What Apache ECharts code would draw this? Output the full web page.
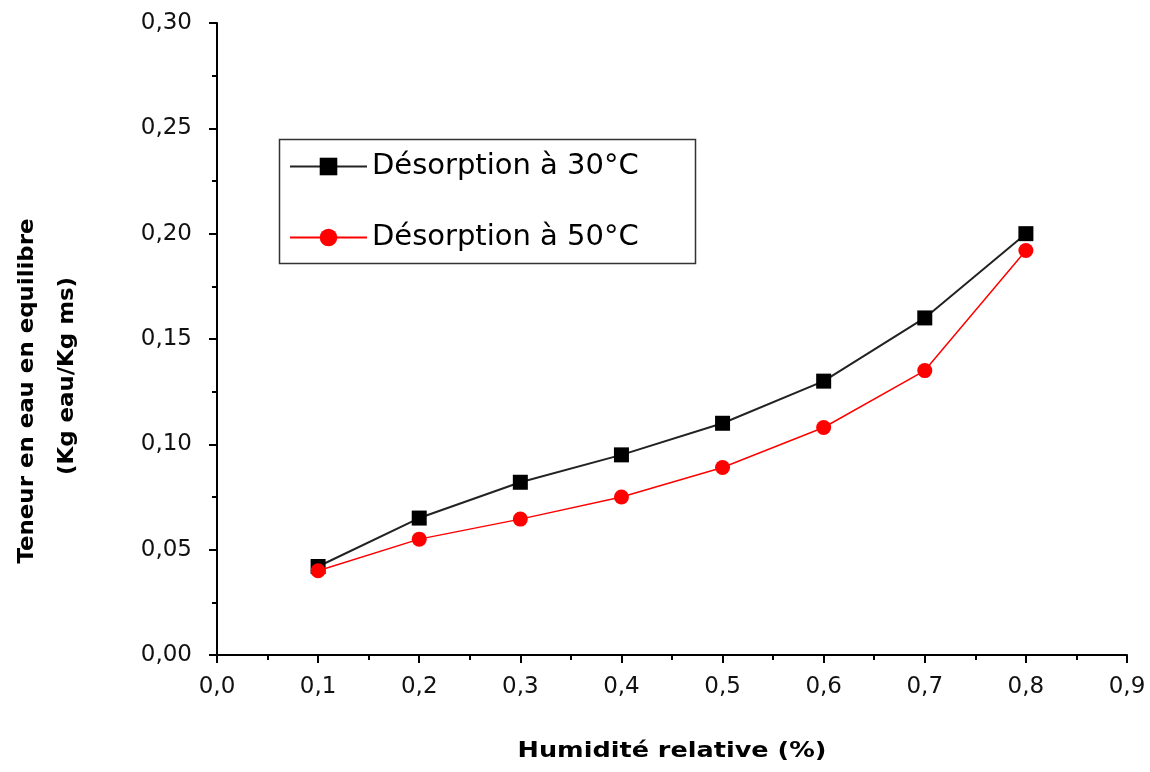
<!DOCTYPE html>
<html><head><meta charset="utf-8">
<script src="https://cdn.jsdelivr.net/npm/echarts@6/dist/echarts.min.js"></script>
<style>html,body{margin:0;padding:0;background:#fff}#c{width:1150px;height:772px}</style>
</head><body><div id="c"></div>
<script>
const humidity = [0.1, 0.2, 0.3, 0.4, 0.5, 0.6, 0.7, 0.8];
const desorption30 = [0.042, 0.065, 0.082, 0.095, 0.110, 0.130, 0.160, 0.200];
const desorption50 = [0.040, 0.055, 0.0645, 0.075, 0.089, 0.108, 0.135, 0.192];
const seriesNames = ['Désorption à 30°C', 'Désorption à 50°C'];
const xTitle = 'Humidité relative (%)';
const yTitle = ['Teneur en eau en equilibre', '(Kg eau/Kg ms)'];

const chart = echarts.init(document.getElementById('c'));
const font = '"DejaVu Sans", sans-serif';
const pair = (xs, ys) => xs.map((x, i) => [x, ys[i]]);
const fmt = (d) => v => v.toFixed(d).replace('.', ',');

chart.setOption({
  animation: false,
  grid: { left: 217, right: 23, top: 23, bottom: 117, containLabel: false },
  xAxis: {
    type: 'value', min: 0, max: 0.9, interval: 0.1,
    axisLine: { lineStyle: { color: '#000', width: 2 } },
    axisTick: { inside: false, length: 8, lineStyle: { color: '#000', width: 2 } },
    minorTick: { show: true, splitNumber: 2, length: 5, lineStyle: { color: '#000', width: 2 } },
    splitLine: { show: false },
    axisLabel: { formatter: fmt(1), color: '#111', fontSize: 23, fontFamily: font, margin: 21 }
  },
  yAxis: {
    type: 'value', min: 0, max: 0.3, interval: 0.05,
    axisLine: { lineStyle: { color: '#000', width: 2 } },
    axisTick: { inside: false, length: 8, lineStyle: { color: '#000', width: 2 } },
    minorTick: { show: true, splitNumber: 2, length: 5, lineStyle: { color: '#000', width: 2 } },
    splitLine: { show: false },
    axisLabel: { formatter: fmt(2), color: '#111', fontSize: 23, fontFamily: font, margin: 25 }
  },
  legend: {
    orient: 'vertical', left: 284, top: 147,
    itemWidth: 77, itemHeight: 22, itemGap: 42,
    textStyle: { fontSize: 29, fontFamily: font, color: '#000', padding: [0, 0, 0, 0] },
    data: seriesNames
  },
  graphic: [
    { type: 'rect', left: 277, top: 137, shape: { width: 416, height: 124 },
      style: { fill: 'none', stroke: '#333', lineWidth: 1.5 }, z: 0 },
    { type: 'text', x: 672, y: 751, scaleX: 1.16,
      style: { text: xTitle, font: 'bold 22px ' + font, fill: '#000', align: 'center', verticalAlign: 'middle' } },
    { type: 'text', x: 27, y: 391, rotation: Math.PI / 2, scaleX: 1.04,
      style: { text: yTitle[0], font: 'bold 22px ' + font, fill: '#000', align: 'center', verticalAlign: 'middle' } },
    { type: 'text', x: 67, y: 376, rotation: Math.PI / 2, scaleX: 1.04,
      style: { text: yTitle[1], font: 'bold 22px ' + font, fill: '#000', align: 'center', verticalAlign: 'middle' } }
  ],
  series: [
    { name: seriesNames[0], type: 'line', data: pair(humidity, desorption30),
      symbol: 'rect', symbolSize: 15, z: 3,
      lineStyle: { color: '#222', width: 2 }, itemStyle: { color: '#000' } },
    { name: seriesNames[1], type: 'line', data: pair(humidity, desorption50),
      symbol: 'circle', symbolSize: 15, z: 4,
      lineStyle: { color: '#ff0000', width: 1.5 }, itemStyle: { color: '#ff0000' } }
  ]
});
</script></body></html>
